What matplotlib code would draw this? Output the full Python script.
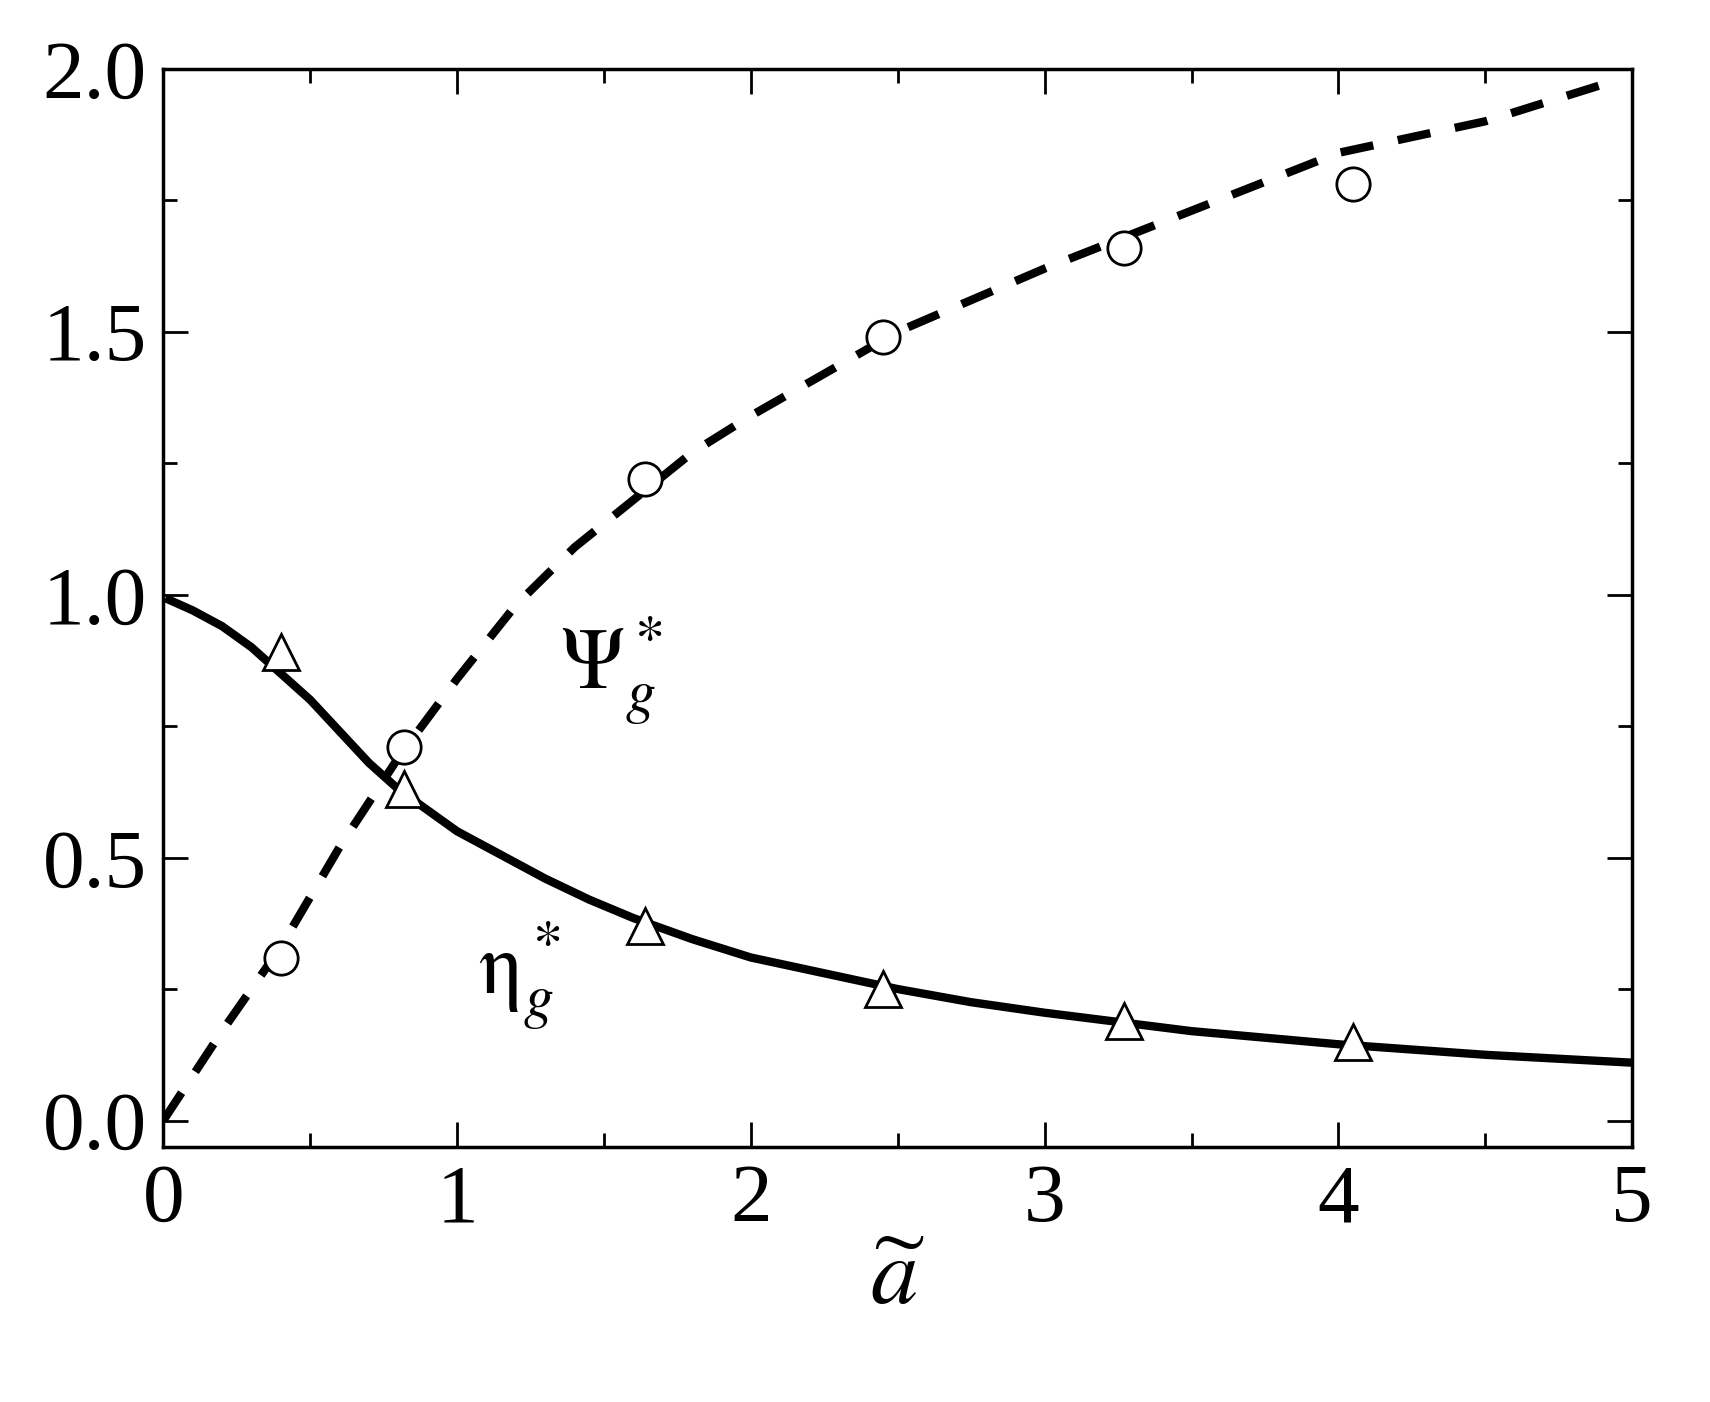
import matplotlib
matplotlib.use("Agg")
import matplotlib.pyplot as plt
from matplotlib.ticker import MultipleLocator

tri_x = [0.4, 0.82, 1.64, 2.45, 3.27, 4.05]
tri_y = [0.89, 0.63, 0.37, 0.25, 0.19, 0.15]
circ_x = [0.4, 0.82, 1.64, 2.45, 3.27, 4.05]
circ_y = [0.31, 0.71, 1.22, 1.49, 1.66, 1.78]
eta_x = [0.02, 0.1, 0.2, 0.3, 0.4, 0.5, 0.6, 0.7, 0.8, 0.9, 1.0, 1.15, 1.3, 1.45, 1.6, 1.8, 2.0, 2.25, 2.5, 2.75, 3.0, 3.5, 4.0, 4.5, 5.0]
eta_y = [0.99, 0.97, 0.94, 0.90, 0.85, 0.80, 0.74, 0.68, 0.63, 0.59, 0.55, 0.505, 0.46, 0.42, 0.385, 0.345, 0.31, 0.28, 0.25, 0.225, 0.205, 0.17, 0.145, 0.125, 0.11]
psi_x = [0.0, 0.2, 0.4, 0.6, 0.8, 1.0, 1.2, 1.4, 1.6, 1.8, 2.0, 2.25, 2.5, 2.75, 3.0, 3.5, 4.0, 4.5, 4.9]
psi_y = [0.0, 0.17, 0.33, 0.52, 0.69, 0.84, 0.98, 1.09, 1.18, 1.27, 1.34, 1.42, 1.50, 1.56, 1.62, 1.73, 1.84, 1.90, 1.97]

plt.rcParams['font.family'] = ['Liberation Serif', 'DejaVu Serif']
plt.rcParams['mathtext.fontset'] = 'stix'
fig = plt.figure(figsize=(17.1, 14.02), dpi=100)
ax = fig.add_axes([0.0955, 0.182, 0.859, 0.769])
ax.plot(eta_x, eta_y, 'k-', lw=6)
ax.plot(psi_x, psi_y, 'k--', lw=6, dashes=(4, 3))
ax.plot(tri_x, tri_y, '^', ms=26, mfc='white', mec='black', mew=2)
ax.plot(circ_x, circ_y, 'o', ms=24, mfc='white', mec='black', mew=2)
ax.set_xlim(0, 5)
ax.set_ylim(-0.05, 2.0)
ax.xaxis.set_major_locator(MultipleLocator(1))
ax.xaxis.set_minor_locator(MultipleLocator(0.5))
ax.yaxis.set_minor_locator(MultipleLocator(0.25))
ax.set_yticks([0, 0.5, 1.0, 1.5, 2.0])
ax.set_yticklabels(['0.0', '0.5', '1.0', '1.5', '2.0'])
ax.tick_params(which='both', direction='in', top=True, right=True, width=2, labelsize=60, pad=12)
ax.tick_params(which='major', length=18)
ax.tick_params(which='minor', length=10)
for s in ax.spines.values():
    s.set_linewidth(2.5)
ax.set_xlabel(r'$\widetilde{a}$', fontsize=68, labelpad=0)
ax.text(1.35, 0.82, r'$\Psi_g^*$', fontsize=62)
ax.text(1.07, 0.24, r'$\mathrm{\eta}_g^*$', fontsize=62)
fig.savefig('out.png', dpi=100)
